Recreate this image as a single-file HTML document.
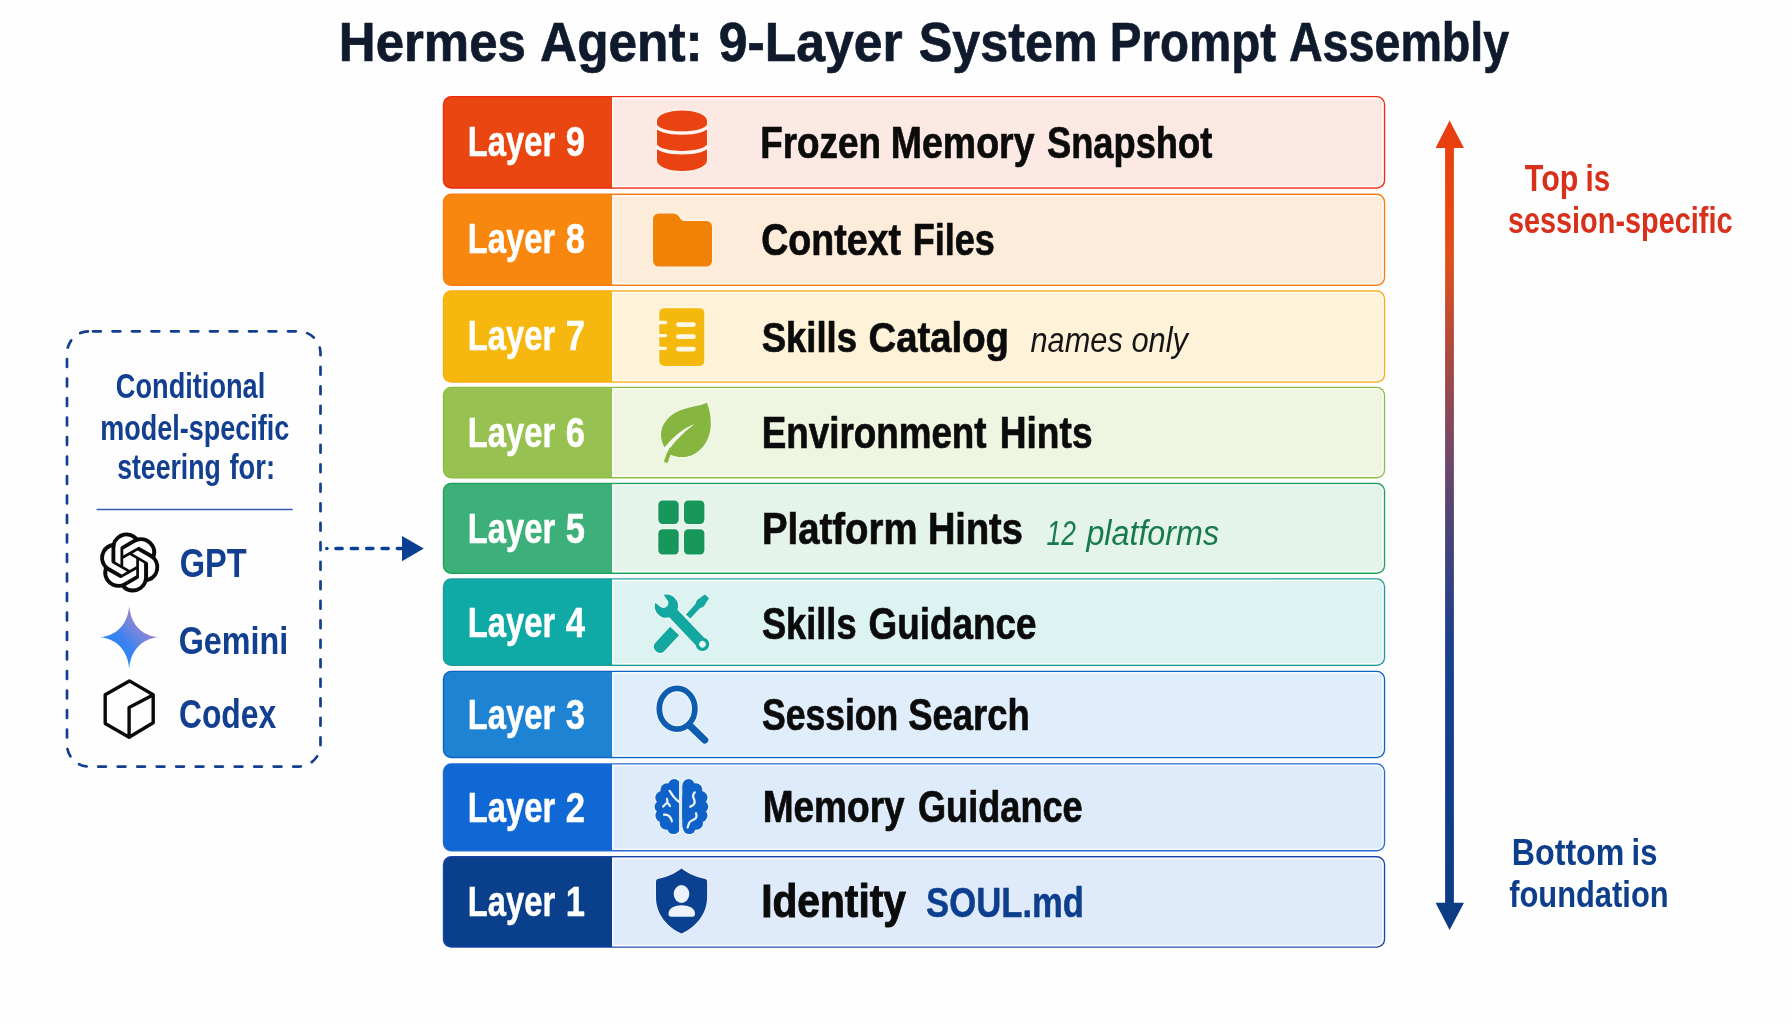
<!DOCTYPE html>
<html lang="en"><head><meta charset="utf-8"><title>Hermes Agent: 9-Layer System Prompt Assembly</title>
<style>html,body{margin:0;padding:0;background:#fefefe;}svg{display:block;will-change:transform;}text{font-family:'Liberation Sans', sans-serif;}</style></head>
<body>
<svg width="1792" height="1024" viewBox="0 0 1792 1024">
<defs>
<linearGradient id="shaft" gradientUnits="userSpaceOnUse" x1="0" y1="120" x2="0" y2="930">
<stop offset="0.0" stop-color="#E83E10"/>
<stop offset="0.121" stop-color="#E8480F"/>
<stop offset="0.169" stop-color="#E0501A"/>
<stop offset="0.217" stop-color="#CC4E2A"/>
<stop offset="0.265" stop-color="#B84A38"/>
<stop offset="0.314" stop-color="#A04848"/>
<stop offset="0.362" stop-color="#8A4858"/>
<stop offset="0.41" stop-color="#744868"/>
<stop offset="0.458" stop-color="#5E4670"/>
<stop offset="0.506" stop-color="#4A4478"/>
<stop offset="0.554" stop-color="#3A4280"/>
<stop offset="0.602" stop-color="#2A4088"/>
<stop offset="0.651" stop-color="#1C408C"/>
<stop offset="0.699" stop-color="#144090"/>
<stop offset="1.0" stop-color="#0C3A84"/>
</linearGradient>
<linearGradient id="gem" x1="0.15" y1="0.85" x2="0.85" y2="0.15">
<stop offset="0" stop-color="#1C8CFA"/><stop offset="0.4" stop-color="#3B82F0"/><stop offset="0.62" stop-color="#6E86E0"/><stop offset="0.85" stop-color="#9C80CE"/><stop offset="1" stop-color="#A87EC6"/>
</linearGradient>
</defs>
<rect width="1792" height="1024" fill="#fefefe"/>
<g id="title">
<text y="61.3" font-size="56" font-weight="bold" stroke="#0F1A2C" stroke-width="0.7" stroke-linejoin="round" fill="#0F1A2C"><tspan x="338.84" textLength="187.00" lengthAdjust="spacingAndGlyphs">Hermes</tspan> <tspan x="540.07" textLength="162.52" lengthAdjust="spacingAndGlyphs">Agent:</tspan> <tspan x="718.87" textLength="183.77" lengthAdjust="spacingAndGlyphs">9-Layer</tspan> <tspan x="918.77" textLength="179.04" lengthAdjust="spacingAndGlyphs">System</tspan> <tspan x="1109.86" textLength="166.16" lengthAdjust="spacingAndGlyphs">Prompt</tspan> <tspan x="1288.88" textLength="220.39" lengthAdjust="spacingAndGlyphs">Assembly</tspan></text>
</g>
<g id="row9">
<rect x="442.8" y="95.9" width="942.4" height="92.8" rx="8.5" ry="8.5" fill="#EE2812"/>
<path d="M612.0,97.3 H1376.7 A7.1,7.1 0 0 1 1383.8,104.4 V180.2 A7.1,7.1 0 0 1 1376.7,187.3 H612.0 Z" fill="#FDE9E3"/>
<path d="M612.9,186.4 V98.2 H1376.7 A6.2,6.2 0 0 1 1382.9,104.4 V180.2 A6.2,6.2 0 0 1 1376.7,186.4 H612.9" fill="none" stroke="#ffffff" stroke-opacity="0.75" stroke-width="1.5"/>
<path d="M451.3,97.3 H612.0 V187.3 H451.3 A7.1,7.1 0 0 1 444.2,180.2 V104.4 A7.1,7.1 0 0 1 451.3,97.3 Z" fill="#EA4612"/>
<text y="156.1" font-size="42" font-weight="bold" fill="#ffffff" stroke="#ffffff" stroke-width="0.5" stroke-linejoin="round"><tspan x="467.87" textLength="87.32" lengthAdjust="spacingAndGlyphs">Layer</tspan> <tspan x="565.78" textLength="19.22" lengthAdjust="spacingAndGlyphs">9</tspan></text>
<text y="157.9" font-size="44.6" font-weight="bold" stroke="#0b0b0b" stroke-width="0.7" stroke-linejoin="round" fill="#0b0b0b"><tspan x="760.25" textLength="120.82" lengthAdjust="spacingAndGlyphs">Frozen</tspan> <tspan x="890.81" textLength="143.71" lengthAdjust="spacingAndGlyphs">Memory</tspan> <tspan x="1046.95" textLength="165.29" lengthAdjust="spacingAndGlyphs">Snapshot</tspan></text>
</g>
<g id="row8">
<rect x="442.8" y="193.6" width="942.4" height="92.3" rx="8.5" ry="8.5" fill="#FC7C14"/>
<path d="M612.0,195.0 H1376.7 A7.1,7.1 0 0 1 1383.8,202.1 V277.4 A7.1,7.1 0 0 1 1376.7,284.5 H612.0 Z" fill="#FEECDB"/>
<path d="M612.9,283.6 V195.9 H1376.7 A6.2,6.2 0 0 1 1382.9,202.1 V277.4 A6.2,6.2 0 0 1 1376.7,283.6 H612.9" fill="none" stroke="#ffffff" stroke-opacity="0.75" stroke-width="1.5"/>
<path d="M451.3,195.0 H612.0 V284.5 H451.3 A7.1,7.1 0 0 1 444.2,277.4 V202.1 A7.1,7.1 0 0 1 451.3,195.0 Z" fill="#F7870F"/>
<text y="253.2" font-size="42" font-weight="bold" fill="#ffffff" stroke="#ffffff" stroke-width="0.5" stroke-linejoin="round"><tspan x="467.87" textLength="87.32" lengthAdjust="spacingAndGlyphs">Layer</tspan> <tspan x="565.78" textLength="19.22" lengthAdjust="spacingAndGlyphs">8</tspan></text>
<text y="254.9" font-size="43.9" font-weight="bold" stroke="#0b0b0b" stroke-width="0.7" stroke-linejoin="round" fill="#0b0b0b"><tspan x="761.15" textLength="139.77" lengthAdjust="spacingAndGlyphs">Context</tspan> <tspan x="912.71" textLength="82.15" lengthAdjust="spacingAndGlyphs">Files</tspan></text>
</g>
<g id="row7">
<rect x="442.8" y="290.3" width="942.4" height="92.4" rx="8.5" ry="8.5" fill="#FCAC12"/>
<path d="M612.0,291.7 H1376.7 A7.1,7.1 0 0 1 1383.8,298.8 V374.2 A7.1,7.1 0 0 1 1376.7,381.3 H612.0 Z" fill="#FEF3D9"/>
<path d="M612.9,380.4 V292.6 H1376.7 A6.2,6.2 0 0 1 1382.9,298.8 V374.2 A6.2,6.2 0 0 1 1376.7,380.4 H612.9" fill="none" stroke="#ffffff" stroke-opacity="0.75" stroke-width="1.5"/>
<path d="M451.3,291.7 H612.0 V381.3 H451.3 A7.1,7.1 0 0 1 444.2,374.2 V298.8 A7.1,7.1 0 0 1 451.3,291.7 Z" fill="#F6B80F"/>
<text y="350.2" font-size="42" font-weight="bold" fill="#ffffff" stroke="#ffffff" stroke-width="0.5" stroke-linejoin="round"><tspan x="467.87" textLength="87.32" lengthAdjust="spacingAndGlyphs">Layer</tspan> <tspan x="565.78" textLength="19.22" lengthAdjust="spacingAndGlyphs">7</tspan></text>
<text y="351.9" font-size="43.0" font-weight="bold" stroke="#0b0b0b" stroke-width="0.7" stroke-linejoin="round" fill="#0b0b0b"><tspan x="761.65" textLength="95.39" lengthAdjust="spacingAndGlyphs">Skills</tspan> <tspan x="868.52" textLength="140.51" lengthAdjust="spacingAndGlyphs">Catalog</tspan></text>
</g>
<g id="row6">
<rect x="442.8" y="386.7" width="942.4" height="91.7" rx="8.5" ry="8.5" fill="#8CBE44"/>
<path d="M612.0,388.1 H1376.7 A7.1,7.1 0 0 1 1383.8,395.2 V469.9 A7.1,7.1 0 0 1 1376.7,477.0 H612.0 Z" fill="#EEF5E1"/>
<path d="M612.9,476.1 V389.0 H1376.7 A6.2,6.2 0 0 1 1382.9,395.2 V469.9 A6.2,6.2 0 0 1 1376.7,476.1 H612.9" fill="none" stroke="#ffffff" stroke-opacity="0.75" stroke-width="1.5"/>
<path d="M451.3,388.1 H612.0 V477.0 H451.3 A7.1,7.1 0 0 1 444.2,469.9 V395.2 A7.1,7.1 0 0 1 451.3,388.1 Z" fill="#97C150"/>
<text y="446.8" font-size="42" font-weight="bold" fill="#ffffff" stroke="#ffffff" stroke-width="0.5" stroke-linejoin="round"><tspan x="467.87" textLength="87.32" lengthAdjust="spacingAndGlyphs">Layer</tspan> <tspan x="565.78" textLength="19.22" lengthAdjust="spacingAndGlyphs">6</tspan></text>
<text y="447.9" font-size="44.6" font-weight="bold" stroke="#0b0b0b" stroke-width="0.7" stroke-linejoin="round" fill="#0b0b0b"><tspan x="761.76" textLength="224.84" lengthAdjust="spacingAndGlyphs">Environment</tspan> <tspan x="999.74" textLength="92.81" lengthAdjust="spacingAndGlyphs">Hints</tspan></text>
</g>
<g id="row5">
<rect x="442.8" y="482.8" width="942.4" height="91.1" rx="8.5" ry="8.5" fill="#1CA25C"/>
<path d="M612.0,484.2 H1376.7 A7.1,7.1 0 0 1 1383.8,491.3 V565.4 A7.1,7.1 0 0 1 1376.7,572.5 H612.0 Z" fill="#E4F4EA"/>
<path d="M612.9,571.6 V485.1 H1376.7 A6.2,6.2 0 0 1 1382.9,491.3 V565.4 A6.2,6.2 0 0 1 1376.7,571.6 H612.9" fill="none" stroke="#ffffff" stroke-opacity="0.75" stroke-width="1.5"/>
<path d="M451.3,484.2 H612.0 V572.5 H451.3 A7.1,7.1 0 0 1 444.2,565.4 V491.3 A7.1,7.1 0 0 1 451.3,484.2 Z" fill="#3DB07A"/>
<text y="543.0" font-size="42" font-weight="bold" fill="#ffffff" stroke="#ffffff" stroke-width="0.5" stroke-linejoin="round"><tspan x="467.87" textLength="87.32" lengthAdjust="spacingAndGlyphs">Layer</tspan> <tspan x="565.78" textLength="19.22" lengthAdjust="spacingAndGlyphs">5</tspan></text>
<text y="543.9" font-size="44.6" font-weight="bold" stroke="#0b0b0b" stroke-width="0.7" stroke-linejoin="round" fill="#0b0b0b"><tspan x="761.96" textLength="155.54" lengthAdjust="spacingAndGlyphs">Platform</tspan> <tspan x="927.88" textLength="95.00" lengthAdjust="spacingAndGlyphs">Hints</tspan></text>
</g>
<g id="row4">
<rect x="442.8" y="578.2" width="942.4" height="87.8" rx="8.5" ry="8.5" fill="#1C9C9A"/>
<path d="M612.0,579.6 H1376.7 A7.1,7.1 0 0 1 1383.8,586.7 V657.5 A7.1,7.1 0 0 1 1376.7,664.6 H612.0 Z" fill="#DDF3F1"/>
<path d="M612.9,663.7 V580.5 H1376.7 A6.2,6.2 0 0 1 1382.9,586.7 V657.5 A6.2,6.2 0 0 1 1376.7,663.7 H612.9" fill="none" stroke="#ffffff" stroke-opacity="0.75" stroke-width="1.5"/>
<path d="M451.3,579.6 H612.0 V664.6 H451.3 A7.1,7.1 0 0 1 444.2,657.5 V586.7 A7.1,7.1 0 0 1 451.3,579.6 Z" fill="#10AAA6"/>
<text y="637.3" font-size="42" font-weight="bold" fill="#ffffff" stroke="#ffffff" stroke-width="0.5" stroke-linejoin="round"><tspan x="467.87" textLength="87.32" lengthAdjust="spacingAndGlyphs">Layer</tspan> <tspan x="565.78" textLength="19.22" lengthAdjust="spacingAndGlyphs">4</tspan></text>
<text y="638.6" font-size="45.0" font-weight="bold" stroke="#0b0b0b" stroke-width="0.7" stroke-linejoin="round" fill="#0b0b0b"><tspan x="761.95" textLength="94.57" lengthAdjust="spacingAndGlyphs">Skills</tspan> <tspan x="868.58" textLength="167.84" lengthAdjust="spacingAndGlyphs">Guidance</tspan></text>
</g>
<g id="row3">
<rect x="442.8" y="670.7" width="942.4" height="87.5" rx="8.5" ry="8.5" fill="#0E64C6"/>
<path d="M612.0,672.1 H1376.7 A7.1,7.1 0 0 1 1383.8,679.2 V749.7 A7.1,7.1 0 0 1 1376.7,756.8 H612.0 Z" fill="#E0EEFB"/>
<path d="M612.9,755.9 V673.0 H1376.7 A6.2,6.2 0 0 1 1382.9,679.2 V749.7 A6.2,6.2 0 0 1 1376.7,755.9 H612.9" fill="none" stroke="#ffffff" stroke-opacity="0.75" stroke-width="1.5"/>
<path d="M451.3,672.1 H612.0 V756.8 H451.3 A7.1,7.1 0 0 1 444.2,749.7 V679.2 A7.1,7.1 0 0 1 451.3,672.1 Z" fill="#1F83D3"/>
<text y="728.6" font-size="42" font-weight="bold" fill="#ffffff" stroke="#ffffff" stroke-width="0.5" stroke-linejoin="round"><tspan x="467.87" textLength="87.32" lengthAdjust="spacingAndGlyphs">Layer</tspan> <tspan x="565.78" textLength="19.22" lengthAdjust="spacingAndGlyphs">3</tspan></text>
<text y="730.2" font-size="45.0" font-weight="bold" stroke="#0b0b0b" stroke-width="0.7" stroke-linejoin="round" fill="#0b0b0b"><tspan x="761.97" textLength="136.31" lengthAdjust="spacingAndGlyphs">Session</tspan> <tspan x="908.35" textLength="121.40" lengthAdjust="spacingAndGlyphs">Search</tspan></text>
</g>
<g id="row2">
<rect x="442.8" y="763.2" width="942.4" height="88.3" rx="8.5" ry="8.5" fill="#2468D4"/>
<path d="M612.0,764.6 H1376.7 A7.1,7.1 0 0 1 1383.8,771.7 V843.0 A7.1,7.1 0 0 1 1376.7,850.1 H612.0 Z" fill="#DEEBFB"/>
<path d="M612.9,849.2 V765.5 H1376.7 A6.2,6.2 0 0 1 1382.9,771.7 V843.0 A6.2,6.2 0 0 1 1376.7,849.2 H612.9" fill="none" stroke="#ffffff" stroke-opacity="0.75" stroke-width="1.5"/>
<path d="M451.3,764.6 H612.0 V850.1 H451.3 A7.1,7.1 0 0 1 444.2,843.0 V771.7 A7.1,7.1 0 0 1 451.3,764.6 Z" fill="#1068D4"/>
<text y="821.6" font-size="42" font-weight="bold" fill="#ffffff" stroke="#ffffff" stroke-width="0.5" stroke-linejoin="round"><tspan x="467.87" textLength="87.32" lengthAdjust="spacingAndGlyphs">Layer</tspan> <tspan x="565.78" textLength="19.22" lengthAdjust="spacingAndGlyphs">2</tspan></text>
<text y="822.2" font-size="45.0" font-weight="bold" stroke="#0b0b0b" stroke-width="0.7" stroke-linejoin="round" fill="#0b0b0b"><tspan x="762.64" textLength="142.08" lengthAdjust="spacingAndGlyphs">Memory</tspan> <tspan x="918.00" textLength="164.69" lengthAdjust="spacingAndGlyphs">Guidance</tspan></text>
</g>
<g id="row1">
<rect x="442.8" y="856.1" width="942.4" height="91.7" rx="8.5" ry="8.5" fill="#1A44A8"/>
<path d="M612.0,857.5 H1376.7 A7.1,7.1 0 0 1 1383.8,864.6 V939.3 A7.1,7.1 0 0 1 1376.7,946.4 H612.0 Z" fill="#DFEAFA"/>
<path d="M612.9,945.5 V858.4 H1376.7 A6.2,6.2 0 0 1 1382.9,864.6 V939.3 A6.2,6.2 0 0 1 1376.7,945.5 H612.9" fill="none" stroke="#ffffff" stroke-opacity="0.75" stroke-width="1.5"/>
<path d="M451.3,857.5 H612.0 V946.4 H451.3 A7.1,7.1 0 0 1 444.2,939.3 V864.6 A7.1,7.1 0 0 1 451.3,857.5 Z" fill="#0A3F8C"/>
<text y="916.2" font-size="42" font-weight="bold" fill="#ffffff" stroke="#ffffff" stroke-width="0.5" stroke-linejoin="round"><tspan x="467.87" textLength="87.32" lengthAdjust="spacingAndGlyphs">Layer</tspan> <tspan x="565.78" textLength="19.22" lengthAdjust="spacingAndGlyphs">1</tspan></text>
<text y="916.6" font-size="46.8" font-weight="bold" stroke="#0b0b0b" stroke-width="1.0" stroke-linejoin="round" fill="#0b0b0b"><tspan x="761.15" textLength="144.78" lengthAdjust="spacingAndGlyphs">Identity</tspan></text>
</g>
<text y="351.7" font-size="35.2" font-style="italic" fill="#151515"><tspan x="1030.54" textLength="92.25" lengthAdjust="spacingAndGlyphs">names</tspan> <tspan x="1131.40" textLength="56.57" lengthAdjust="spacingAndGlyphs">only</tspan></text>
<text y="544.6" font-size="35.5" font-style="italic" fill="#167A4E"><tspan x="1046.54" textLength="29.35" lengthAdjust="spacingAndGlyphs">12</tspan> <tspan x="1086.41" textLength="132.64" lengthAdjust="spacingAndGlyphs">platforms</tspan></text>
<text x="926.10" y="916.6" font-size="42.6" stroke="#0D3F8F" stroke-width="0.5" stroke-linejoin="round" font-weight="bold" fill="#0D3F8F" textLength="157.93" lengthAdjust="spacingAndGlyphs">SOUL.md</text>
<g id="ic9">
<path d="M657,120.8 A25,10.3 0 0 1 707,120.8 V160.5 A25,10.5 0 0 1 657,160.5 Z" fill="#EA4311" stroke="#FFF4EF" stroke-width="2" paint-order="stroke"/>
<path d="M656.5,125.6 A25.5,7.4 0 0 0 707.5,125.6" fill="none" stroke="#FFF4EF" stroke-width="3.5"/>
<path d="M656.5,145.3 A25.5,7.4 0 0 0 707.5,145.3" fill="none" stroke="#FFF4EF" stroke-width="3.5"/>
</g>
<path id="ic8" d="M658.5,213.4 H673.5 Q677,213.4 678.8,216.2 L680.6,219 Q681.9,221 684.5,221 H706.5 A5.5,5.5 0 0 1 712,226.5 V261 A5.5,5.5 0 0 1 706.5,266.5 H658.5 A5.5,5.5 0 0 1 653,261 V218.9 A5.5,5.5 0 0 1 658.5,213.4 Z" fill="#F08307" stroke="#FFF6EC" stroke-width="2" paint-order="stroke"/>
<g id="ic7">
<rect x="659.3" y="308.2" width="45" height="57.8" rx="4.8" fill="#F5B80C" stroke="#FFF8E4" stroke-width="2" paint-order="stroke"/>
<rect x="676.1" y="322.2" width="19.7" height="4.8" rx="2.4" fill="#FFF8E4"/>
<rect x="676.1" y="334.3" width="19.7" height="4.8" rx="2.4" fill="#FFF8E4"/>
<rect x="676.1" y="346.7" width="19.7" height="4.8" rx="2.4" fill="#FFF8E4"/>
<path d="M658,320.8 H665.4 A1.7,1.7 0 0 1 665.4,324.2 H658 Z" fill="#FFF8E4"/>
<path d="M658,333.9 H665.4 A1.7,1.7 0 0 1 665.4,337.3 H658 Z" fill="#FFF8E4"/>
<path d="M658,346.7 H665.4 A1.7,1.7 0 0 1 665.4,350.1 H658 Z" fill="#FFF8E4"/>
</g>
<g id="ic6">
<path d="M707,402.7 C700,405.6 690.5,406.6 680.5,410.3 C668,415 661,425.5 661,434.5 C661,440 662.3,444 664.9,447.6 L669.8,454.2 C673.5,455.9 677.5,457.2 682.5,457.1 C697,456.8 710.8,443.5 710.8,423.4 C710.8,416 709.4,408.5 707,402.7 Z" fill="#86B540" stroke="#F6FAEC" stroke-width="2" paint-order="stroke"/>
<path d="M694.9,424.1 C683.5,428 673.5,436.5 663.6,448.6 L667.2,452.6 C674.5,441.3 684,431.8 694.9,424.1 Z" fill="#F6FAEC"/>
<path d="M671.5,448.5 C669,452.8 667.2,457.5 665.7,462.4" fill="none" stroke="#86B540" stroke-width="4" stroke-linecap="butt"/>
</g>
<g id="ic5" fill="#17975A" stroke="#F2FAF5" stroke-width="2" paint-order="stroke">
<rect x="658.3" y="500.6" width="20.4" height="23.3" rx="4.2"/>
<rect x="658.3" y="529.2" width="20.4" height="25.3" rx="4.2"/>
<rect x="684.0" y="500.6" width="20.4" height="23.3" rx="4.2"/>
<rect x="684.0" y="529.2" width="20.4" height="25.3" rx="4.2"/>
</g>
<g id="ic4">
<g transform="translate(660.26,646.46) rotate(-47.1)" fill="#12A8A0" stroke="#EAF8F6" stroke-width="1.8" paint-order="stroke">
<path d="M-0.9,-6.1 H21.1 V6.1 H-0.9 A5.4,5.4 0 0 1 -6.3,0.7 V-0.7 A5.4,5.4 0 0 1 -0.9,-6.1 Z"/>
<path d="M41,-3 H54 C56.6,-3 57,-4.7 59.2,-4.7 L68.4,-2.9 Q69,0 68.4,2.9 L59.2,4.7 C57,4.7 56.6,3 54,3 H41 Z"/>
</g>
<g transform="translate(666.4,606.1) rotate(46.6)">
<path d="M-10.05,-5.8 A11.6,11.6 0 0 1 10.16,-5.6 H48.64 A6.8,6.8 0 1 1 48.64,5.6 H10.16 A11.6,11.6 0 0 1 -10.05,5.8 L-4.2,4.9 A4.9,4.9 0 0 0 -4.2,-4.9 Z" fill="#12A8A0" stroke="#EAF8F6" stroke-width="2.6" stroke-linejoin="round" paint-order="stroke"/>
<circle cx="52.5" cy="0" r="3.3" fill="#EAF8F6"/>
</g>
</g>
<g id="ic3">
<ellipse cx="677.1" cy="708.8" rx="17.8" ry="20.4" fill="none" stroke="#EEF6FE" stroke-width="8"/>
<path d="M690.3,726.2 L704.7,740" stroke="#EEF6FE" stroke-width="9.4" stroke-linecap="round"/>
<ellipse cx="677.1" cy="708.8" rx="17.8" ry="20.4" fill="none" stroke="#0D5CB0" stroke-width="5.7"/>
<path d="M690.3,726.2 L704.7,740" stroke="#0D5CB0" stroke-width="7.2" stroke-linecap="round"/>
</g>
<g id="ic2">
<clipPath id="bl"><rect x="640" y="770" width="39.1" height="80"/></clipPath>
<clipPath id="br"><rect x="682.3" y="770" width="40" height="80"/></clipPath>
<g clip-path="url(#bl)">
<circle cx="674.2" cy="785.3" r="7.4" fill="#F0F6FE"/>
<circle cx="667.0" cy="789.8" r="7.8" fill="#F0F6FE"/>
<circle cx="661.9" cy="797.6" r="7.8" fill="#F0F6FE"/>
<circle cx="660.6" cy="806.8" r="7.2" fill="#F0F6FE"/>
<circle cx="662.0" cy="815.5" r="7.8" fill="#F0F6FE"/>
<circle cx="666.5" cy="823.0" r="8.0" fill="#F0F6FE"/>
<circle cx="673.5" cy="827.6" r="7.6" fill="#F0F6FE"/>
<circle cx="674.2" cy="785.3" r="6.2" fill="#0F62C8"/>
<circle cx="667.0" cy="789.8" r="6.6" fill="#0F62C8"/>
<circle cx="661.9" cy="797.6" r="6.6" fill="#0F62C8"/>
<circle cx="660.6" cy="806.8" r="6.0" fill="#0F62C8"/>
<circle cx="662.0" cy="815.5" r="6.6" fill="#0F62C8"/>
<circle cx="666.5" cy="823.0" r="6.8" fill="#0F62C8"/>
<circle cx="673.5" cy="827.6" r="6.4" fill="#0F62C8"/>
<circle cx="672.0" cy="806.0" r="13.0" fill="#0F62C8"/>
<circle cx="670.0" cy="797.0" r="10.0" fill="#0F62C8"/>
<circle cx="671.0" cy="816.0" r="10.0" fill="#0F62C8"/>
<ellipse cx="675.0" cy="806.4" rx="9" ry="26" fill="#0F62C8"/>
</g>
<g clip-path="url(#br)">
<circle cx="688.6" cy="785.3" r="7.4" fill="#F0F6FE"/>
<circle cx="695.8" cy="789.8" r="7.8" fill="#F0F6FE"/>
<circle cx="700.9" cy="797.6" r="7.8" fill="#F0F6FE"/>
<circle cx="702.2" cy="806.8" r="7.2" fill="#F0F6FE"/>
<circle cx="700.8" cy="815.5" r="7.8" fill="#F0F6FE"/>
<circle cx="696.3" cy="823.0" r="8.0" fill="#F0F6FE"/>
<circle cx="689.3" cy="827.6" r="7.6" fill="#F0F6FE"/>
<circle cx="688.6" cy="785.3" r="6.2" fill="#0F62C8"/>
<circle cx="695.8" cy="789.8" r="6.6" fill="#0F62C8"/>
<circle cx="700.9" cy="797.6" r="6.6" fill="#0F62C8"/>
<circle cx="702.2" cy="806.8" r="6.0" fill="#0F62C8"/>
<circle cx="700.8" cy="815.5" r="6.6" fill="#0F62C8"/>
<circle cx="696.3" cy="823.0" r="6.8" fill="#0F62C8"/>
<circle cx="689.3" cy="827.6" r="6.4" fill="#0F62C8"/>
<circle cx="690.8" cy="806.0" r="13.0" fill="#0F62C8"/>
<circle cx="692.8" cy="797.0" r="10.0" fill="#0F62C8"/>
<circle cx="691.8" cy="816.0" r="10.0" fill="#0F62C8"/>
<ellipse cx="687.8" cy="806.4" rx="9" ry="26" fill="#0F62C8"/>
</g>
<path d="M669.6,790.8 C671.5,794.5 674.5,798.5 679,802" fill="none" stroke="#F0F6FE" stroke-width="2.2" stroke-linecap="round" stroke-linejoin="round"/>
<path d="M663.2,806.6 C664.8,804.8 666.2,803.6 667.2,802.4 C667.5,801 667.3,799.8 667,798.8 M667.2,802.4 C668.3,803.6 669.3,804.8 670,806" fill="none" stroke="#F0F6FE" stroke-width="2.2" stroke-linecap="round" stroke-linejoin="round"/>
<path d="M664,814.6 C667.5,814.4 669.3,815.8 670.4,817.6 C671.2,819 671.6,820.2 671.9,821.3" fill="none" stroke="#F0F6FE" stroke-width="2.2" stroke-linecap="round" stroke-linejoin="round"/>
<path d="M694.8,792.3 C692.8,794.5 692.6,796.5 693.8,798.8 C695.2,801.4 695.2,803 693.5,804.6 C692.3,805.6 691,806.3 690.2,806.7" fill="none" stroke="#F0F6FE" stroke-width="2.2" stroke-linecap="round" stroke-linejoin="round"/>
<path d="M696,813.2 C697.2,816 696.3,818.2 694.2,819.3 C692,820.3 690.2,820.8 689.2,822.8 C688.5,824.5 688.2,826 687.6,827.4" fill="none" stroke="#F0F6FE" stroke-width="2.2" stroke-linecap="round" stroke-linejoin="round"/>
</g>
<g id="ic1">
<path d="M681.5,868.4 C674.5,874 665.5,877.4 657.8,878.9 Q656,879.3 656,881.2 V897 C656,915 668,927.2 681.5,933.6 C695,927.2 707.1,915 707.1,897 V881.2 Q707.1,879.3 705.3,878.9 C697.6,877.4 688.6,874 681.5,868.4 Z" fill="#0A4191" stroke="#EDF3FD" stroke-width="2" paint-order="stroke"/>
<ellipse cx="681.5" cy="894" rx="7.8" ry="9" fill="#EDF3FD"/>
<path d="M668.5,913.8 C668.5,908 675,905.3 681.7,905.3 C688.5,905.3 695,908 695,913.8 Q695,916.8 692.3,916.8 H671.2 Q668.5,916.8 668.5,913.8 Z" fill="#EDF3FD"/>
</g>
<g id="leftpanel">
<rect x="67" y="331.3" width="253.5" height="435.3" rx="22" ry="22" fill="none" stroke="#123F8F" stroke-width="2.7" stroke-linecap="round" stroke-dasharray="7.8 11.7" stroke-dashoffset="-4"/>
<text x="115.81" y="398.1" font-size="35.5" font-weight="bold" fill="#123F8F" textLength="149.47" lengthAdjust="spacingAndGlyphs">Conditional</text>
<text x="100.15" y="439.5" font-size="35.5" font-weight="bold" fill="#123F8F" textLength="189.06" lengthAdjust="spacingAndGlyphs">model-specific</text>
<text y="479.2" font-size="35.5" font-weight="bold" fill="#123F8F"><tspan x="117.17" textLength="103.67" lengthAdjust="spacingAndGlyphs">steering</tspan> <tspan x="229.39" textLength="45.64" lengthAdjust="spacingAndGlyphs">for:</tspan></text>
<path d="M96.6,509.5 H292.7" stroke="#2F5FB5" stroke-width="1.5"/>
<path transform="translate(99.70,532.50) scale(2.5)" d="M22.2819 9.8211a5.9847 5.9847 0 0 0-.5157-4.9108 6.0462 6.0462 0 0 0-6.5098-2.9A6.0651 6.0651 0 0 0 4.9807 4.1818a5.9847 5.9847 0 0 0-3.9977 2.9 6.0462 6.0462 0 0 0 .7427 7.0966 5.98 5.98 0 0 0 .511 4.9107 6.051 6.051 0 0 0 6.5146 2.9001A5.9847 5.9847 0 0 0 13.2599 24a6.0557 6.0557 0 0 0 5.7718-4.2058 5.9894 5.9894 0 0 0 3.9977-2.9001 6.0557 6.0557 0 0 0-.7475-7.0729zm-9.022 12.6081a4.4755 4.4755 0 0 1-2.8764-1.0408l.1419-.0804 4.7783-2.7582a.7948.7948 0 0 0 .3927-.6813v-6.7369l2.02 1.1686a.071.071 0 0 1 .038.052v5.5826a4.504 4.504 0 0 1-4.4945 4.4944zm-9.6607-4.1254a4.4708 4.4708 0 0 1-.5346-3.0137l.142.0852 4.783 2.7582a.7712.7712 0 0 0 .7806 0l5.8428-3.3685v2.3324a.0804.0804 0 0 1-.0332.0615L9.74 19.9502a4.4992 4.4992 0 0 1-6.1408-1.6464zM2.3408 7.8956a4.485 4.485 0 0 1 2.3655-1.9728V11.6a.7664.7664 0 0 0 .3879.6765l5.8144 3.3543-2.0201 1.1685a.0757.0757 0 0 1-.071 0l-4.8303-2.7865A4.504 4.504 0 0 1 2.3408 7.872zm16.5963 3.8558L13.1038 8.364 15.1192 7.2a.0757.0757 0 0 1 .071 0l4.8303 2.7913a4.4944 4.4944 0 0 1-.6765 8.1042v-5.6772a.79.79 0 0 0-.407-.667zm2.0107-3.0231l-.142-.0852-4.7735-2.7818a.7759.7759 0 0 0-.7854 0L9.409 9.2297V6.8974a.0662.0662 0 0 1 .0284-.0615l4.8303-2.7866a4.4992 4.4992 0 0 1 6.6802 4.66zM8.3065 12.863l-2.02-1.1638a.0804.0804 0 0 1-.038-.0567V6.0742a4.4992 4.4992 0 0 1 7.3757-3.4537l-.142.0805L8.704 5.459a.7948.7948 0 0 0-.3927.6813zm1.0976-2.3654l2.602-1.4998 2.6069 1.4998v2.9994l-2.5974 1.4997-2.6067-1.4997Z" fill="#0a0a0a"/>
<text x="179.70" y="576.6" font-size="40.4" font-weight="bold" fill="#123F8F" textLength="66.97" lengthAdjust="spacingAndGlyphs">GPT</text>
<path d="M129.2,605.5 C130.4,623.9 141.6,636.0 158.8,637.3 C141.6,638.6 130.4,650.7 129.2,669.1 C128.0,650.7 116.8,638.6 99.6,637.3 C116.8,636.0 128.0,623.9 129.2,605.5 Z" fill="url(#gem)"/>
<text x="178.71" y="654.3" font-size="39.7" font-weight="bold" fill="#123F8F" textLength="109.55" lengthAdjust="spacingAndGlyphs">Gemini</text>
<path d="M129.4,680.9 L153.2,694.7 V722.8 L129.1,737.2 L105.2,723.6 V694.7 Z M152,695.6 L129.1,707.4 V736.5" fill="none" stroke="#0a0a0a" stroke-width="3.4" stroke-linejoin="round" stroke-linecap="round"/>
<text x="178.93" y="728.3" font-size="41.5" font-weight="bold" fill="#123F8F" textLength="97.27" lengthAdjust="spacingAndGlyphs">Codex</text>
<circle cx="326.9" cy="548.5" r="1.8" fill="#0B3F91"/>
<path d="M335.9,548.5 H404" stroke="#0B3F91" stroke-width="3.4" stroke-linecap="round" stroke-dasharray="6.3 9.05" fill="none"/>
<path d="M402,536.1 L423.8,548.5 L402,561.3 Z" fill="#0B3F91"/>
</g>
<g id="rightside">
<rect x="1445.1" y="146" width="8.8" height="758" fill="url(#shaft)"/>
<path d="M1449.6,120.5 L1464,148 H1435.6 Z" fill="#E83E10"/>
<path d="M1449.6,930.1 L1464,902.8 H1435.6 Z" fill="#0C3C84"/>
<text y="191.4" font-size="36.9" font-weight="bold" fill="#D8301A"><tspan x="1524.80" textLength="53.55" lengthAdjust="spacingAndGlyphs">Top</tspan> <tspan x="1585.51" textLength="24.65" lengthAdjust="spacingAndGlyphs">is</tspan></text>
<text x="1507.89" y="232.7" font-size="36.9" font-weight="bold" fill="#D8301A" textLength="224.65" lengthAdjust="spacingAndGlyphs">session-specific</text>
<text y="864.7" font-size="36.5" font-weight="bold" fill="#0D3E8C"><tspan x="1511.81" textLength="112.57" lengthAdjust="spacingAndGlyphs">Bottom</tspan> <tspan x="1631.61" textLength="25.79" lengthAdjust="spacingAndGlyphs">is</tspan></text>
<text x="1509.14" y="907.1" font-size="36.5" font-weight="bold" fill="#0D3E8C" textLength="159.52" lengthAdjust="spacingAndGlyphs">foundation</text>
</g>
</svg>
</body></html>
